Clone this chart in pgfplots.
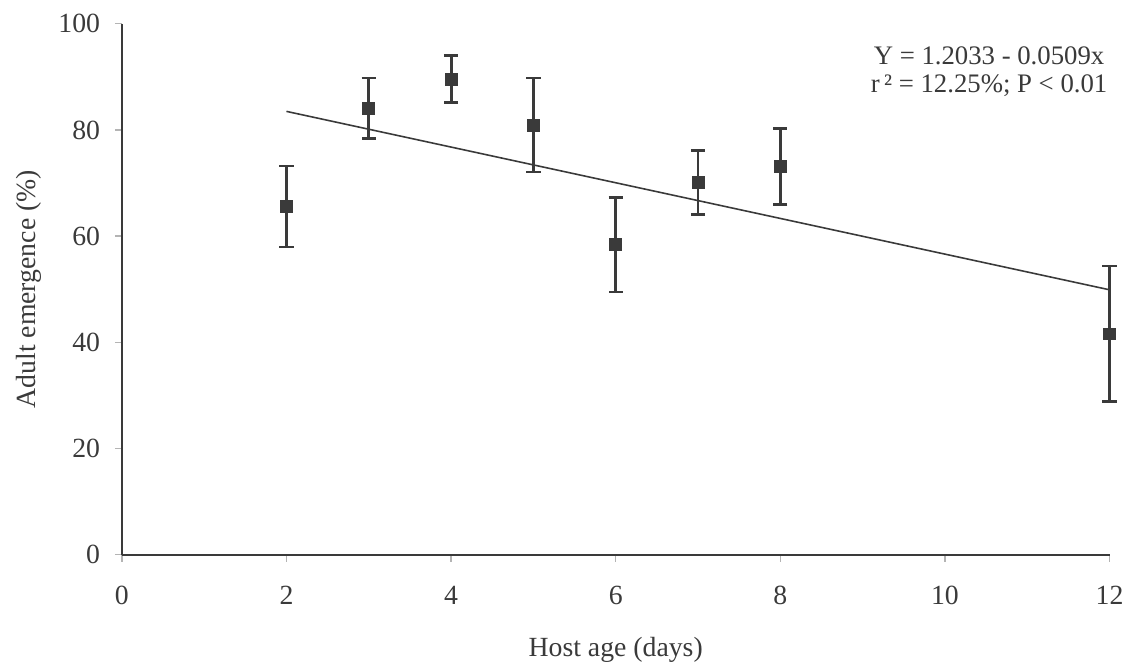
\documentclass[border=0pt]{standalone}
\usepackage{fontspec}
\setmainfont{Liberation Serif}
\usepackage{pgfplots}
\pgfplotsset{compat=1.18}
\definecolor{ink}{HTML}{3A3A3A}
\definecolor{tickgray}{HTML}{B4B4B4}
\begin{document}
\begin{tikzpicture}
\begin{axis}[
  scale only axis,
  width=498.5pt, height=268pt,
  xmin=0, xmax=12, ymin=0, ymax=100,
  xtick={0,2,...,12}, ytick={0,20,...,100},
  axis lines*=left,
  axis line style={ink, line width=1pt},
  tick align=outside,
  tick pos=left,
  major tick length=3.5pt,
  tick style={tickgray, line width=0.7pt},
  /pgf/number format/assume math mode=true,
  ticklabel style={font=\fontsize{14}{16}\selectfont, text=ink},
  xticklabel style={yshift=-9pt},
  yticklabel style={xshift=-4pt},
  label style={font=\fontsize{14}{16}\selectfont, text=ink},
  xlabel={Host age (days)},
  ylabel={Adult emergence (\%)},
  xlabel style={inner ysep=0pt, yshift=-12.5pt},
  ylabel style={inner ysep=8pt, yshift=-2.8pt},
  clip=false,
]
% fitted regression line
\addplot[ink, line width=0.8pt, no marks] coordinates {(2,83.5) (12,49.9)};
% means with error bars
\addplot[ink, only marks, mark=square*, mark size=3pt,
  error bars/.cd, y dir=both, y explicit, error mark=|,
  error bar style={ink, line width=1.5pt},
  error mark options={ink, line width=1.3pt, mark size=3.6pt}]
  coordinates {
  (2,65.6)  +- (0,7.6)
  (3,84.1)  +- (0,5.7)
  (4,89.6)  +- (0,4.45)
  (5,80.9)  +- (0,8.85)
  (6,58.4)  +- (0,8.9)
  (7,70.1)  +- (0,6.05)
  (8,73.1)  +- (0,7.15)
  (12,41.6) +- (0,12.75)
  };
\node[align=center, text=ink, font=\fontsize{13.5}{14.5}\selectfont]
  at (rel axis cs:0.878,0.910) {Y = 1.2033 - 0.0509x\\r\,² = 12.25\%; P < 0.01};
% a little white room above the top tick label
\path (rel axis cs:0,1) +(0pt,12pt);
\end{axis}
\end{tikzpicture}
\end{document}
